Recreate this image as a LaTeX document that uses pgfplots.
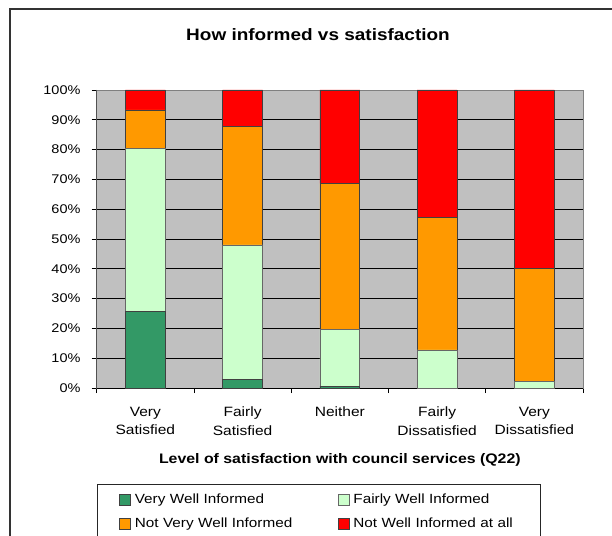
\documentclass[border=0pt]{standalone}
\usepackage{pgfplots}
\usepackage{pgfplotstable}
\pgfplotsset{compat=1.18}
\usepackage{fontspec}
\setmainfont{Liberation Sans}[FakeStretch=1.15]

\definecolor{vwell}{RGB}{51,153,102}
\definecolor{fwell}{RGB}{204,255,204}
\definecolor{nvwell}{RGB}{255,153,0}
\definecolor{nwell}{RGB}{255,0,0}
\definecolor{plotbg}{RGB}{192,192,192}

% Share of respondents (%) by level of satisfaction with council services
\pgfplotstableread{
x vwell fwell nvwell nwell
0 25.6 54.8 12.9 6.7
1 3.0  45.0 39.7 12.3
2 0.6  19.1 49.0 31.3
3 0.0  12.8 44.3 42.9
4 0.0  2.3  37.9 59.8
}\datatable

\begin{document}
\begin{tikzpicture}[x=1pt,y=1pt]
\useasboundingbox (0,0) rectangle (612,535);
\fill[white] (0,0) rectangle (612,535);
% chart frame
\draw[line width=1.3pt, black!80] (10,-5) -- (10,526) -- (620,526);
\node[font=\fontsize{16.5}{20}\selectfont\bfseries] at (318,500) {How informed vs satisfaction};
% legend frame
\draw[line width=1pt, black!85] (97,-10) rectangle (540.5,51);
\begin{axis}[
  at={(96.7pt,147pt)}, anchor=south west,
  scale only axis, width=486.3pt, height=298pt,
  ybar stacked, bar width=0.41,
  xmin=-0.5, xmax=4.5, ymin=0, ymax=100,
  axis background/.style={fill=plotbg},
  axis line style={draw=black!50, line width=0.8pt},
  /pgf/number format/assume math mode=true,
  ytick={0,10,...,100},
  yticklabel={\pgfmathprintnumber{\tick}\%},
  ymajorgrids, major grid style={black, line width=0.9pt},
  xtick={0,1,2,3,4},
  xticklabels={{Very\\Satisfied},{Fairly\\Satisfied},Neither,{Fairly\\Dissatisfied},{Very\\Dissatisfied}},
  minor xtick={-0.5,0.5,1.5,2.5,3.5,4.5},
  major x tick style={draw=none},
  tick pos=left,
  tick align=outside,
  major tick length=5pt, minor tick length=5pt,
  tick style={black, line width=0.8pt},
  yticklabel style={font=\fontsize{12.6}{15}\selectfont, inner sep=0pt, xshift=-11pt},
  xticklabel style={font=\fontsize{13.5}{18.3}\selectfont, align=center, inner sep=0pt, anchor=north, yshift=-14pt},
  xlabel={Level of satisfaction with council services (Q22)},
  xlabel style={at={(axis description cs:0.5,-0.24)}, anchor=center, font=\fontsize{13.8}{16}\selectfont\bfseries},
  legend columns=2,
  legend style={at={(axis description cs:0.0459,-0.352)}, anchor=north west, draw=none, fill=none, inner sep=0pt,
    font=\fontsize{13.3}{16}\selectfont,
    nodes={inner sep=0pt, text height=10pt, text depth=3pt},
    /tikz/row sep=11pt,
    /tikz/every odd column/.append style={column sep=4pt},
    /tikz/every even column/.append style={column sep=8pt, text width=195pt}},
  legend cell align=left,
  legend image code/.code={\draw[#1, line width=0.6pt] (0pt,-5.5pt) rectangle (11pt,5.5pt);},
]
\addplot[fill=vwell, draw=black!75, line width=0.7pt] table[x=x, y=vwell]{\datatable};
\addlegendentry{Very Well Informed}
\addplot[fill=fwell, draw=black!60, line width=0.7pt] table[x=x, y=fwell]{\datatable};
\addlegendentry{Fairly Well Informed}
\addplot[fill=nvwell, draw=black!75, line width=0.7pt] table[x=x, y=nvwell]{\datatable};
\addlegendentry{Not Very Well Informed}
\addplot[fill=nwell, draw=black!75, line width=0.7pt] table[x=x, y=nwell]{\datatable};
\addlegendentry{Not Well Informed at all}
% darker left and bottom axis lines
\draw[black, line width=1pt] (rel axis cs:0,1) -- (rel axis cs:0,0) -- (rel axis cs:1,0);
\end{axis}
\end{tikzpicture}
\end{document}
